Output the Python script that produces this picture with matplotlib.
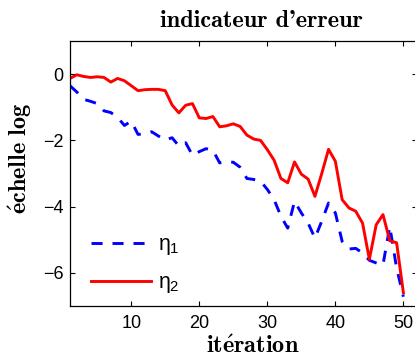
import matplotlib
matplotlib.use("Agg")
import matplotlib.pyplot as plt
import numpy as np

# iterations 1..50
iterations = list(range(1, 51))

# eta_1 (blue dashed), log scale values
eta1 = [-0.35, -0.54, -0.76, -0.82, -0.89, -1.11, -1.16, -1.31, -1.55, -1.42,
        -1.82, -1.80, -1.74, -1.87, -1.99, -1.92, -2.17, -2.07, -2.45, -2.34,
        -2.25, -2.30, -2.68, -2.65, -2.66, -2.81, -3.15, -3.18, -3.23, -3.48,
        -3.79, -4.29, -4.65, -3.84, -4.19, -4.50, -4.95, -4.44, -3.89, -4.19,
        -5.05, -5.28, -5.26, -5.40, -5.62, -5.70, -5.76, -4.60, -5.85, -6.72]

# eta_2 (red solid)
eta2 = [-0.13, -0.02, -0.07, -0.10, -0.08, -0.10, -0.24, -0.13, -0.20, -0.35,
        -0.50, -0.47, -0.46, -0.46, -0.50, -0.93, -1.17, -0.94, -0.89, -1.32,
        -1.34, -1.28, -1.59, -1.56, -1.50, -1.58, -1.84, -1.96, -2.00, -2.28,
        -2.60, -3.15, -3.28, -2.65, -3.02, -3.17, -3.69, -3.00, -2.27, -2.63,
        -3.79, -4.04, -4.14, -4.50, -5.59, -4.55, -4.24, -5.03, -5.09, -6.60]

legend_labels = [r"$\eta_1$", r"$\eta_2$"]
x_ticks = [10, 20, 30, 40, 50]
y_ticks = [-6, -4, -2, 0]

# sans math for the legend (upright eta)
plt.rcParams["mathtext.fontset"] = "custom"
plt.rcParams["mathtext.rm"] = "Liberation Sans"
plt.rcParams["mathtext.it"] = "Liberation Sans"

fig = plt.figure(figsize=(4.15, 3.58), dpi=100)
ax = fig.add_axes([70 / 415, 52 / 358, 347 / 415, 265 / 358])

ax.plot(iterations, eta1, color="#0000ff", lw=2.1, dashes=(3.8, 3.4),
        dash_capstyle="butt", label=legend_labels[0])
ax.plot(iterations, eta2, color="#ff0000", lw=2.1, label=legend_labels[1])

ax.set_xlim(1, 52)
ax.set_ylim(-7, 1)
ax.set_xticks(x_ticks)
ax.set_yticks(y_ticks)
ax.tick_params(direction="in", length=3.5, width=0.8, top=True, right=True,
               labelsize=13)
ax.tick_params(axis="x", pad=6.5)
ax.tick_params(axis="y", pad=4.8)
for lab in ax.get_xticklabels() + ax.get_yticklabels():
    lab.set_family("Liberation Sans")
for sp in ax.spines.values():
    sp.set_linewidth(0.9)

leg = ax.legend(loc="lower left", bbox_to_anchor=(0.06, 0.04), frameon=False,
                fontsize=15.5, handlelength=2.8, handletextpad=0.3,
                borderpad=0, borderaxespad=0, labelspacing=0.7)

# title and labels in bold Computer Modern
fig.text(261 / 415, 331 / 358, "indicateur d'erreur", ha="center", va="baseline",
         family=["cmb10", "DejaVu Serif"], fontsize=17.5)
fig.text(253 / 415, 5 / 358, r"$\mathbf{it\acute{e}ration}$", ha="center", va="baseline",
         fontsize=17.5, math_fontfamily="cm")
fig.text(20 / 415, 1 - 158 / 358, r"$\mathbf{\acute{e}chelle\ log}$", ha="center",
         va="center", rotation=90, fontsize=17.5, math_fontfamily="cm")

fig.savefig("out.png", dpi=100)
